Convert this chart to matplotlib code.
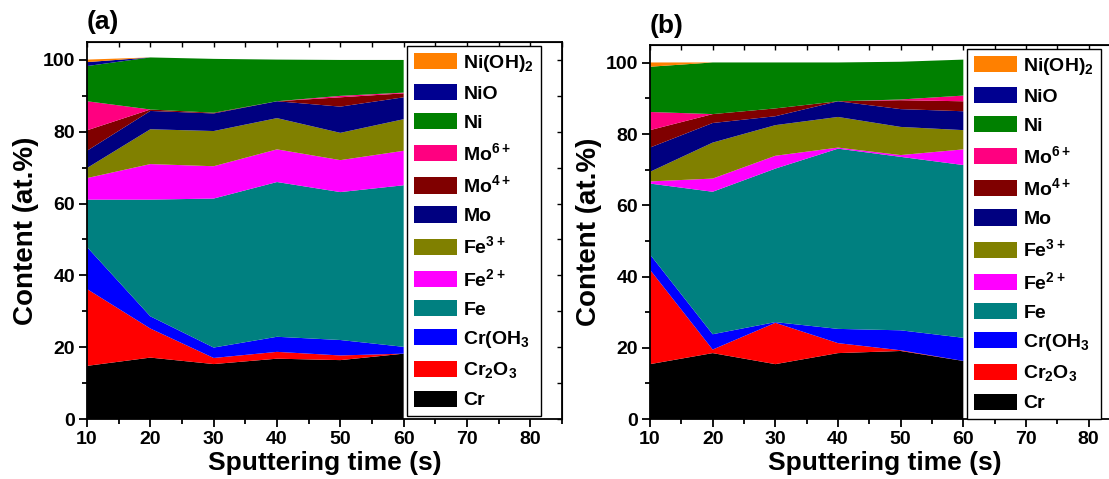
# Constants
FIG_DPI = 100
FIG_SIZE = (11.09, 4.79)
X_LIMITS = (10, 85)
Y_LIMITS = (0, 105)

import matplotlib
matplotlib.use("Agg")
import matplotlib.pyplot as plt
from matplotlib.axes import Axes
from matplotlib.ticker import MultipleLocator

plt.rcParams['font.family'] = ['Liberation Sans', 'DejaVu Sans']
plt.rcParams['font.weight'] = 'bold'
plt.rcParams['mathtext.default'] = 'regular'

# Data, stacked bottom -> top
times = [10, 20, 30, 40, 50, 60]

species = ['Cr', 'Cr$_2$O$_3$', 'Cr(OH$_3$', 'Fe', 'Fe$^{2+}$', 'Fe$^{3+}$',
           'Mo', 'Mo$^{4+}$', 'Mo$^{6+}$', 'Ni', 'NiO', 'Ni(OH)$_2$']

colors = ['#000000', '#FF0000', '#0000FF', '#008080', '#FF00FF', '#808000',
          '#000080', '#800000', '#FF0080', '#008000', '#000090', '#FF8000']

# panel (a)
a_cr     = [14.8, 17.1, 15.3, 16.8, 16.4, 18.2]
a_cr2o3  = [21.4, 8.1, 1.7, 1.9, 1.3, 0.0]
a_croh3  = [11.7, 3.4, 2.9, 4.2, 4.3, 1.9]
a_fe     = [13.2, 32.5, 41.5, 43.1, 41.2, 45.0]
a_fe2    = [6.0, 9.9, 9.0, 9.1, 8.9, 9.6]
a_fe3    = [2.8, 9.7, 9.8, 8.7, 7.6, 8.8]
a_mo     = [4.8, 5.1, 4.9, 4.7, 7.3, 6.1]
a_mo4    = [5.7, 0.4, 0.2, 0.0, 2.6, 1.1]
a_mo6    = [8.1, 0.0, 0.0, 0.0, 0.4, 0.2]
a_ni     = [9.8, 14.5, 15.0, 11.6, 10.0, 9.1]
a_nio    = [1.1, 0.0, 0.0, 0.0, 0.0, 0.0]
a_nioh2  = [0.7, 0.0, 0.0, 0.0, 0.0, 0.0]

# panel (b)
b_cr     = [15.4, 18.5, 15.4, 18.5, 19.1, 16.3]
b_cr2o3  = [26.5, 1.0, 11.6, 2.8, 0.2, 0.0]
b_croh3  = [4.3, 4.3, 0.2, 4.0, 5.6, 6.5]
b_fe     = [19.9, 40.0, 43.1, 50.6, 48.7, 48.5]
b_fe2    = [0.6, 3.7, 3.6, 0.3, 0.5, 4.4]
b_fe3    = [2.7, 10.1, 8.6, 8.6, 7.9, 5.4]
b_mo     = [6.8, 5.5, 2.5, 4.4, 5.0, 5.3]
b_mo4    = [4.9, 2.5, 2.2, 0.0, 2.5, 2.8]
b_mo6    = [5.1, 0.0, 0.0, 0.0, 0.2, 1.6]
b_ni     = [12.7, 14.5, 12.9, 10.9, 10.6, 10.1]
b_nio    = [0.0, 0.0, 0.0, 0.0, 0.0, 0.0]
b_nioh2  = [1.2, 0.0, 0.0, 0.0, 0.0, 0.0]

panel_a = [a_cr, a_cr2o3, a_croh3, a_fe, a_fe2, a_fe3, a_mo, a_mo4, a_mo6, a_ni, a_nio, a_nioh2]
panel_b = [b_cr, b_cr2o3, b_croh3, b_fe, b_fe2, b_fe3, b_mo, b_mo4, b_mo6, b_ni, b_nio, b_nioh2]


def style_axes(ax: Axes) -> None:
    """Origin-like frame: outward ticks bottom/left, inward ticks top/right."""
    ax.set_xlim(*X_LIMITS)
    ax.set_ylim(*Y_LIMITS)
    ax.xaxis.set_major_locator(MultipleLocator(10))
    ax.xaxis.set_minor_locator(MultipleLocator(5))
    ax.yaxis.set_major_locator(MultipleLocator(20))
    ax.yaxis.set_minor_locator(MultipleLocator(10))
    for spine in ax.spines.values():
        spine.set_linewidth(1.3)
    ax.tick_params(which='major', direction='out', length=6, width=1.3, labelsize=14, pad=2.5)
    ax.tick_params(which='minor', direction='out', length=3.5, width=1.3)

    top = ax.secondary_xaxis('top')
    top.xaxis.set_major_locator(MultipleLocator(5))
    top.tick_params(direction='in', length=3.5, width=1.0, labeltop=False)
    right = ax.secondary_yaxis('right')
    right.yaxis.set_major_locator(MultipleLocator(10))
    right.tick_params(direction='in', length=3.5, width=1.0, labelright=False)

    ax.set_xlabel('Sputtering time (s)', fontsize=19, fontweight='bold', labelpad=2)
    ax.set_ylabel('Content (at.%)', fontsize=20, fontweight='bold', labelpad=3)


def paint_panel(ax: Axes, layers: list, tag: str, legend_right: float) -> None:
    polys = ax.stackplot(times, *layers, colors=colors, labels=species, linewidth=0)
    style_axes(ax)
    ax.text(0.0, 1.02, tag, transform=ax.transAxes, fontsize=19, fontweight='bold', ha='left', va='bottom')
    ax.legend(polys[::-1], species[::-1], loc='upper right', bbox_to_anchor=(legend_right, 0.99),
              borderaxespad=0, fontsize=14, handlelength=2.2, handleheight=0.9,
              labelspacing=0.53, handletextpad=0.35, borderpad=0.35,
              fancybox=False, framealpha=1, edgecolor='black')


fig = plt.figure(figsize=FIG_SIZE, dpi=FIG_DPI)
ax_a = fig.add_axes([87 / 1109, 1 - 419 / 479, 475 / 1109, 377 / 479])
ax_b = fig.add_axes([650 / 1109, 1 - 419 / 479, 470 / 1109, 374 / 479])

paint_panel(ax_a, panel_a, '(a)', 0.956)
paint_panel(ax_b, panel_b, '(b)', 0.96)

fig.savefig('out.png', dpi=FIG_DPI)
